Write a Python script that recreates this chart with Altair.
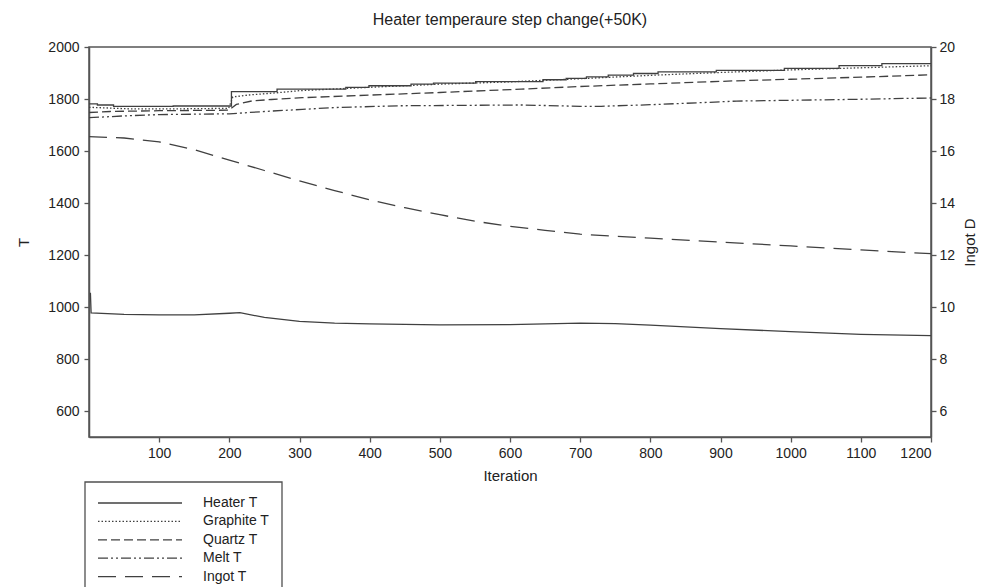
import altair as alt
import pandas as pd

# ---- data ----
heater_iter = [0, 12, 35, 120, 203, 268, 366, 399, 459, 491, 551, 647, 680, 709, 740, 776, 811, 894, 991, 1069, 1130, 1200]
heater_T = [1781, 1777, 1772, 1773, 1828, 1838, 1845, 1851, 1857, 1861, 1867, 1874, 1879, 1885, 1892, 1898, 1904, 1910, 1918, 1928, 1936, 1936]

graphite_iter = [0, 20, 60, 120, 199, 205, 230, 268, 300, 400, 500, 600, 700, 800, 900, 1000, 1100, 1200]
graphite_T = [1768, 1766, 1762, 1762, 1764, 1808, 1816, 1824, 1832, 1845, 1857, 1866, 1878, 1891, 1902, 1912, 1920, 1928]

quartz_iter = [0, 30, 100, 199, 210, 233, 260, 304, 400, 500, 616, 700, 800, 923, 1000, 1100, 1200]
quartz_T = [1748, 1752, 1755, 1757, 1779, 1793, 1798, 1805, 1815, 1825, 1838, 1848, 1858, 1870, 1876, 1884, 1893]

melt_iter = [0, 50, 100, 200, 250, 304, 350, 444, 616, 700, 730, 800, 873, 923, 1000, 1100, 1200]
melt_T = [1728, 1735, 1740, 1743, 1752, 1760, 1767, 1774, 1777, 1772, 1772, 1778, 1786, 1792, 1795, 1799, 1804]

ingot_iter = [0, 50, 100, 150, 200, 250, 300, 350, 400, 450, 500, 550, 600, 650, 700, 750, 800, 900, 1000, 1100, 1200]
ingot_T = [1655, 1650, 1635, 1605, 1565, 1525, 1485, 1448, 1412, 1382, 1355, 1330, 1310, 1295, 1280, 1272, 1265, 1250, 1235, 1220, 1205]

diam_iter = [2, 3, 50, 100, 150, 200, 215, 250, 300, 350, 400, 500, 600, 700, 750, 800, 900, 1000, 1100, 1200]
diam_D = [10.55, 9.77, 9.72, 9.70, 9.70, 9.76, 9.78, 9.60, 9.45, 9.38, 9.35, 9.31, 9.32, 9.38, 9.36, 9.30, 9.17, 9.05, 8.95, 8.90]

legend_names = ["Heater T", "Graphite T", "Quartz T", "Melt T", "Ingot T"]

FONT = "Liberation Sans"
INK = "#404040"
SW = 1.3

x_enc = alt.X("iter:Q", scale=alt.Scale(domain=[0, 1200], nice=False, zero=False),
              axis=alt.Axis(values=list(range(100, 1201, 100)), format="d", title="Iteration",
                            labelPadding=4, titlePadding=8))
y_scale = alt.Scale(domain=[500, 2000], nice=False, zero=False)
y_axis = alt.Axis(values=list(range(600, 2001, 200)), format="d", title="T",
                  labelPadding=5, titlePadding=16)


def left_line(iters, vals, dash=None, interp="linear"):
    df = pd.DataFrame({"iter": iters, "T": vals})
    kw = dict(color=INK, strokeWidth=SW, interpolate=interp)
    if dash is not None:
        kw["strokeDash"] = dash
    return alt.Chart(df).mark_line(**kw).encode(
        x=x_enc, y=alt.Y("T:Q", scale=y_scale, axis=y_axis))


dashes = [None, [1.5, 2], [9, 4], [10, 3, 2, 3, 2, 3], [18, 9]]

left = alt.layer(
    left_line(heater_iter, heater_T, None, "step-after"),
    left_line(graphite_iter, graphite_T, dashes[1]),
    left_line(quartz_iter, quartz_T, dashes[2]),
    left_line(melt_iter, melt_T, dashes[3]),
    left_line(ingot_iter, ingot_T, dashes[4]),
)

right = alt.Chart(pd.DataFrame({"iter": diam_iter, "D": diam_D})).mark_line(
    color=INK, strokeWidth=SW).encode(
    x=x_enc,
    y=alt.Y("D:Q", scale=alt.Scale(domain=[5, 20], nice=False, zero=False),
            axis=alt.Axis(orient="right", values=list(range(6, 21, 2)), format="d",
                          title="Ingot D", titleAngle=270, labelPadding=3, titlePadding=23)))

# ---- legend box below the plot (lower left) ----
legend_layers = []
box = alt.Chart(pd.DataFrame({"k": [0]})).mark_rect(
    filled=False, stroke="#505050", strokeWidth=1.3).encode(
    x=alt.value(-4), x2=alt.value(193), y=alt.value(435), y2=alt.value(620))
legend_layers.append(box)
for i, name in enumerate(legend_names):
    yy = 456 + i * 18.4
    rkw = dict(color=INK, strokeWidth=SW)
    if dashes[i] is not None:
        rkw["strokeDash"] = dashes[i]
    legend_layers.append(
        alt.Chart(pd.DataFrame({"name": [name]})).mark_rule(**rkw).encode(
            x=alt.value(9), x2=alt.value(93), y=alt.value(yy)))
    legend_layers.append(
        alt.Chart(pd.DataFrame({"name": [name]})).mark_text(
            align="left", baseline="middle", font=FONT, fontSize=14, color="#222").encode(
            x=alt.value(114), y=alt.value(yy), text="name:N"))

chart = alt.layer(left, right, *legend_layers).resolve_scale(y="independent").properties(
    width=842, height=390,
    title=alt.TitleParams("Heater temperaure step change(+50K)", font=FONT, fontSize=16,
                          fontWeight="normal", color="#222", offset=12),
    autosize=alt.AutoSizeParams(type="none"),
    padding={"left": 81, "top": 39, "right": 52, "bottom": 150},
).configure_view(stroke="#555", strokeWidth=1.5).configure_axis(
    grid=False, domainColor="#555", domainWidth=1.5, tickColor="#555", tickWidth=1.3,
    tickSize=5, labelFont=FONT, labelFontSize=14, labelColor="#222",
    titleFont=FONT, titleFontSize=15, titleFontWeight="normal", titleColor="#222",
)

chart.save("out.html", embed_options={"renderer": "svg", "actions": False})
